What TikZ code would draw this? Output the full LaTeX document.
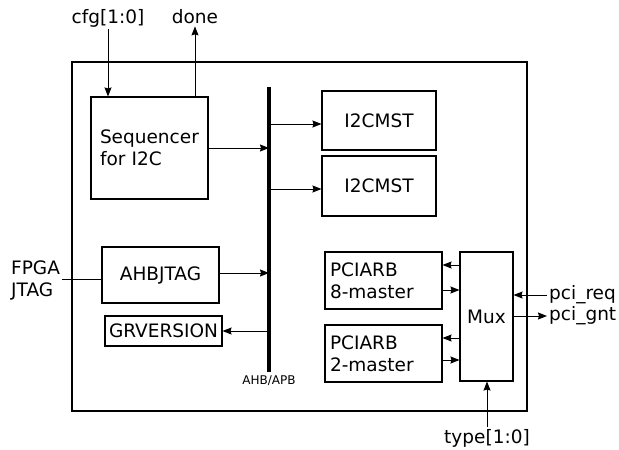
\documentclass[tikz,border=0pt]{standalone}
\usepackage{fontspec}
\setmainfont{DejaVu Sans}
\usepackage{tikz}
\usetikzlibrary{arrows.meta}
\tikzstyle{block} = [rectangle, draw=black, line width=1.1pt, text centered, inner sep=0pt]
\tikzstyle{lblock} = [rectangle, draw=black, line width=1.1pt, align=left, inner ysep=0pt]
\tikzstyle{sig} = [inner sep=2pt]
\tikzstyle{arrow} = [line width=1pt,->,>={Stealth[length=9pt,width=7pt,inset=1pt]}]

\begin{document}
\begin{tikzpicture}[x=1pt, y=-1pt, every node/.style={font=\fontsize{18.5}{22}\selectfont}]
  \useasboundingbox (0,0) rectangle (619,450);

  \node (chip) [rectangle, draw=black, line width=1.1pt, minimum width=455, minimum height=349] at (299.5,236.5) {};

  \node (seq) [lblock, text width=99, inner xsep=9, minimum height=102] at (149.5,148) {Sequencer\\for I2C};
  \node (i2c1) [block, minimum width=114, minimum height=59] at (379,120.5) {I2CMST};
  \node (i2c2) [block, minimum width=114, minimum height=60] at (379,186) {I2CMST};
  \node (jtag) [block, minimum width=117, minimum height=56] at (160.5,275) {AHBJTAG};
  \node (grv) [block, minimum width=117, minimum height=30] at (163.5,331) {GRVERSION};
  \node (pci8) [lblock, text width=107, inner xsep=5, minimum height=57] at (383.5,280.5) {PCIARB\\8-master};
  \node (pci2) [lblock, text width=107, inner xsep=5, minimum height=57] at (383.5,353.5) {PCIARB\\2-master};
  \node (mux) [block, minimum width=53, minimum height=129] at (486.5,316.5) {Mux};

  % bus
  \coordinate (bus) at (269,87);
  \draw [line width=4.5pt] (bus) -- (269,372) coordinate (busend);
  \node (buslbl) [sig, font=\fontsize{12}{14}\selectfont] at (269,381) {AHB/APB};

  % outside signals
  \node (cfg) [sig] at (108,18) {cfg[1:0]};
  \node (done) [sig] at (195,17) {done};
  \node (fpga) [sig, align=left, anchor=west] at (9,280) {FPGA\\JTAG};
  \node (req) [sig, anchor=west] at (547,295) {pci\_req};
  \node (gnt) [sig, anchor=west] at (547,316) {pci\_gnt};
  \node (type) [sig] at (487,438) {type[1:0]};

  \draw [arrow] (cfg.south) -- (cfg.south |- seq.north);
  \draw [arrow] (done.south |- seq.north) -- (done.south);
  \draw [arrow] (seq.east) -- (seq.east -| bus);
  \draw [arrow] (bus |- 0,124) -- (i2c1.west |- 0,124);
  \draw [arrow] (bus |- 0,189) -- (i2c2.west |- 0,189);
  \draw [line width=1pt] (fpga.east |- 0,279) -- (jtag.west |- 0,279);
  \draw [arrow] (jtag.east |- 0,273) -- (bus |- 0,273);
  \draw [arrow] (bus |- grv.east) -- (grv.east);

  \draw [arrow] (mux.west |- 0,265) -- (pci8.east |- 0,265);
  \draw [arrow] (pci8.east |- 0,290) -- (mux.west |- 0,290);
  \draw [arrow] (mux.west |- 0,338) -- (pci2.east |- 0,338);
  \draw [arrow] (pci2.east |- 0,360) -- (mux.west |- 0,360);

  \draw [arrow] (req.west) -- (req.west -| mux.east);
  \draw [arrow] (gnt.west -| mux.east) -- (gnt.west);
  \draw [arrow] (type.north) -- (type.north |- mux.south);
\end{tikzpicture}
\end{document}
